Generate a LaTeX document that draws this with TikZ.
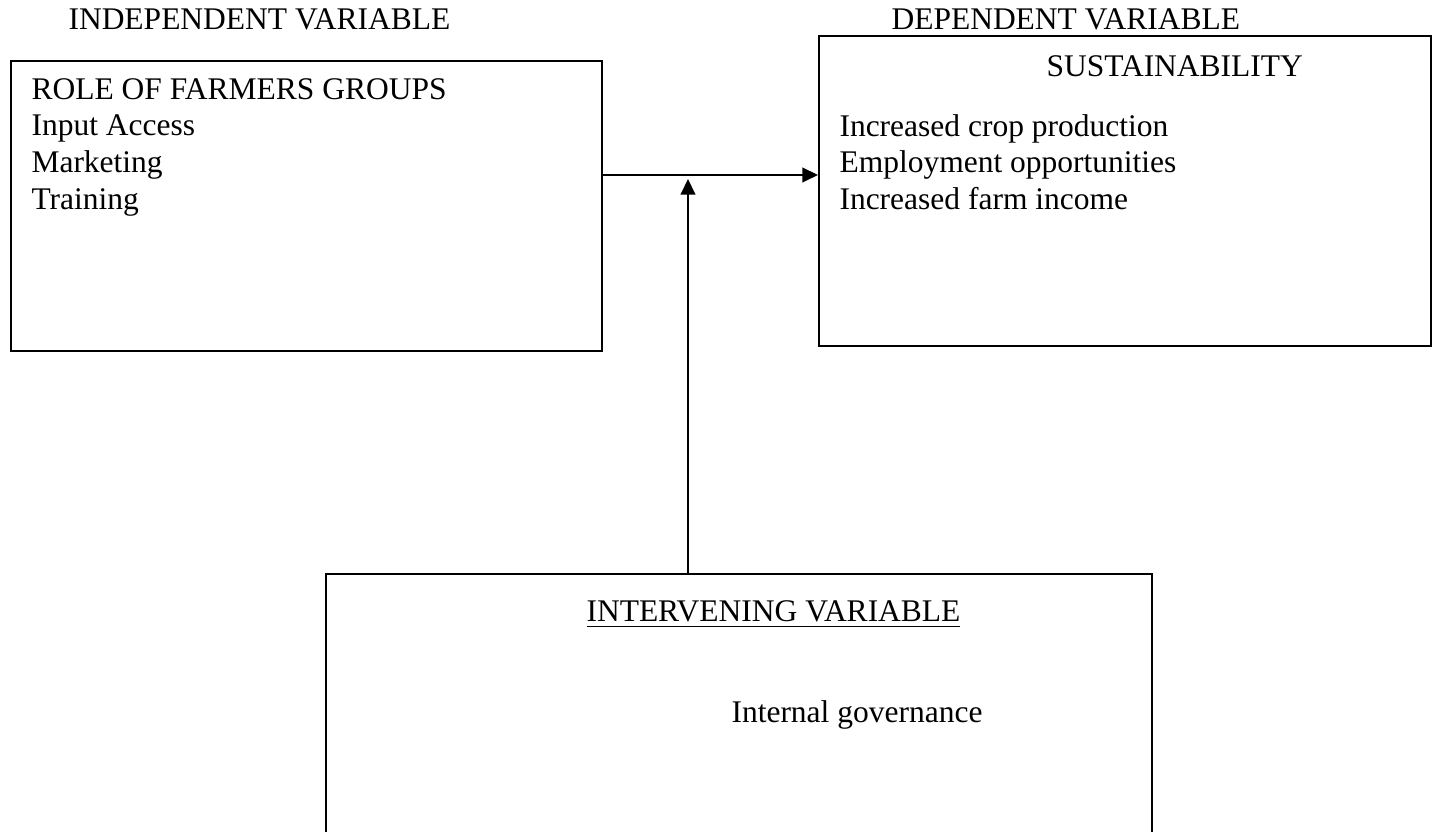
\documentclass[tikz,border=0pt]{standalone}
\usepackage{fontspec}
\setmainfont{Liberation Serif}
\usetikzlibrary{arrows.meta}
\newcommand\px{0.381pt}
\tikzset{
  varbox/.style={draw, line width=0.9pt, inner sep=0pt, anchor=north west},
  label/.style={anchor=base west, inner sep=0pt, font=\fontsize{12}{14}\selectfont},
  flow/.style={line width=0.8pt, -{Triangle[length=6pt, width=5.6pt]}}
}
\begin{document}
\begin{tikzpicture}[x=\px, y=-\px]
      \useasboundingbox (0,0) rectangle (1440,832);
      % headings
      \node[label] (indephead) at (68,30) {INDEPENDENT VARIABLE};
      \node[label] (dephead) at (891,30) {DEPENDENT VARIABLE};
      % boxes
      \node[varbox, minimum width=591*\px, minimum height=290*\px] (indep) at (10,60) {};
      \node[varbox, minimum width=612*\px, minimum height=310*\px] (dep) at (818,35) {};
      \node[varbox, minimum width=826*\px, minimum height=320*\px] (interv) at (325,573) {};
      % independent variable
      \node[label] (role) at (31,100) {ROLE OF FARMERS GROUPS};
      \node[label] (input) at (31,136) {Input Access};
      \node[label] (market) at (31,173) {Marketing};
      \node[label] (train) at (31,210) {Training};
      % dependent variable
      \node[label] (sustain) at (1046,77) {SUSTAINABILITY};
      \node[label] (crop) at (839,137) {Increased crop production};
      \node[label] (employ) at (839,173) {Employment opportunities};
      \node[label] (income) at (839,210) {Increased farm income};
      % intervening variable
      \node[label] (intervhead) at (586,622) {\underline{INTERVENING VARIABLE}};
      \node[label] (govern) at (731,723) {Internal governance};
      % links
      \coordinate (cross) at (688,175);
      \draw[flow] (indep.east |- cross) to (dep.west |- cross);
      \draw[flow] (interv.north -| cross) to ([yshift=-4*\px]cross);
    \end{tikzpicture}
\end{document}
